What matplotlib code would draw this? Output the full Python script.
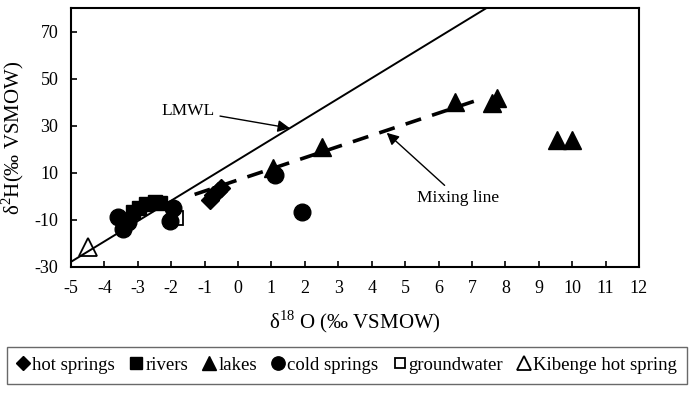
import numpy as np
import matplotlib
matplotlib.use("Agg")
import matplotlib.pyplot as plt

plt.rcParams['font.family'] = ['Liberation Serif', 'DejaVu Serif']
plt.rcParams['mathtext.fontset'] = 'custom'
plt.rcParams['mathtext.rm'] = 'Liberation Serif'
plt.rcParams['axes.unicode_minus'] = False

# d18O, d2H pairs per water type
hot_x = [-0.85, -0.75, -0.6, -0.5]
hot_y = [-1.5, 0.5, 2.0, 3.5]
river_x = [-3.15, -2.95, -2.75, -2.5, -2.35]
river_y = [-6.8, -5.2, -3.5, -2.5, -2.8]
lake_x = [1.05, 2.5, 6.5, 7.6, 7.75, 9.55, 10.0]
lake_y = [12.0, 21.0, 40.0, 39.5, 41.8, 24.0, 24.0]
cold_x = [-3.6, -3.45, -3.3, -2.05, -1.95, 1.1, 1.9]
cold_y = [-8.8, -13.8, -11.0, -10.5, -5.0, 9.0, -6.6]
ground_x = [-1.85]
ground_y = [-9.5]
kib_x = [-4.5]
kib_y = [-21.5]

# local meteoric water line and mixing line
lmwl_slope, lmwl_icpt = 8.7, 15.5
lmwl_x = [-5, 7.4]
mix_slope, mix_icpt = 4.75, 6.9
mix_x = [-1.3, 7.2]

xticks = list(range(-5, 13))
yticks = [-30, -10, 10, 30, 50, 70]

fig = plt.figure(figsize=(6.94, 3.95), dpi=100)
ax = fig.add_axes([0.1023, 0.3253, 0.8184, 0.6532])

lx = np.array(lmwl_x)
ax.plot(lx, lmwl_slope * lx + lmwl_icpt, color='black', lw=1.4, zorder=1)
mx = np.array(mix_x)
ax.plot(mx, mix_slope * mx + mix_icpt, color='black', lw=2.6,
        dashes=(4.5, 3.2), zorder=1)

ax.plot(ground_x, ground_y, 's', ms=9.5, mfc='white', mec='black', mew=1.3,
        label='groundwater', zorder=2)
ax.plot(river_x, river_y, 's', ms=10, color='black', label='rivers', zorder=3)
ax.plot(cold_x, cold_y, 'o', ms=12, color='black', label='cold springs', zorder=3)
ax.plot(hot_x, hot_y, 'D', ms=9, color='black', label='hot springs', zorder=3)
ax.plot(lake_x, lake_y, '^', ms=12.5, color='black', label='lakes', zorder=3)
ax.plot(kib_x, kib_y, '^', ms=12.5, mfc='none', mec='black', mew=1.3,
        label='Kibenge hot spring', zorder=3)

arrow = dict(arrowstyle='-|>', color='black', lw=1.0, mutation_scale=18,
             shrinkA=2, shrinkB=0)
ax.annotate('LMWL', xy=(1.55, lmwl_slope * 1.55 + lmwl_icpt),
            xytext=(-1.5, 36.5), ha='center', va='center', fontsize=12.5,
            arrowprops=arrow)
ax.annotate('Mixing line', xy=(4.45, 27.0), xytext=(6.6, -0.8),
            ha='center', va='center', fontsize=12.5, arrowprops=arrow)

ax.set_xlim(-5, 12)
ax.set_ylim(-30, 80)
ax.set_xticks(xticks)
ax.set_yticks(yticks)
ax.tick_params(direction='in', length=4, width=1.2, labelsize=13)
ax.tick_params(axis='x', pad=10)
ax.tick_params(axis='y', pad=9)
for s in ax.spines.values():
    s.set_linewidth(1.5)

ax.set_xlabel('δ$^{18}$ O (‰ VSMOW)', fontsize=15, labelpad=8)
ax.set_ylabel('δ$^{2}$H(‰ VSMOW)', fontsize=15, labelpad=6)

h, l = ax.get_legend_handles_labels()
order = ['hot springs', 'rivers', 'lakes', 'cold springs', 'groundwater',
         'Kibenge hot spring']
hs = [h[l.index(n)] for n in order]
leg = fig.legend(hs, order, loc='center', ncol=6, fontsize=13.5,
                 bbox_to_anchor=(-0.004, 0.025, 1.008, 0.10), mode='expand',
                 frameon=True, fancybox=False, handlelength=0.7,
                 handletextpad=0.12, columnspacing=0.8, borderpad=0.55,
                 markerscale=0.8)
leg.get_frame().set_edgecolor('#444444')
leg.get_frame().set_linewidth(1.0)

fig.savefig('out.png', dpi=100)
